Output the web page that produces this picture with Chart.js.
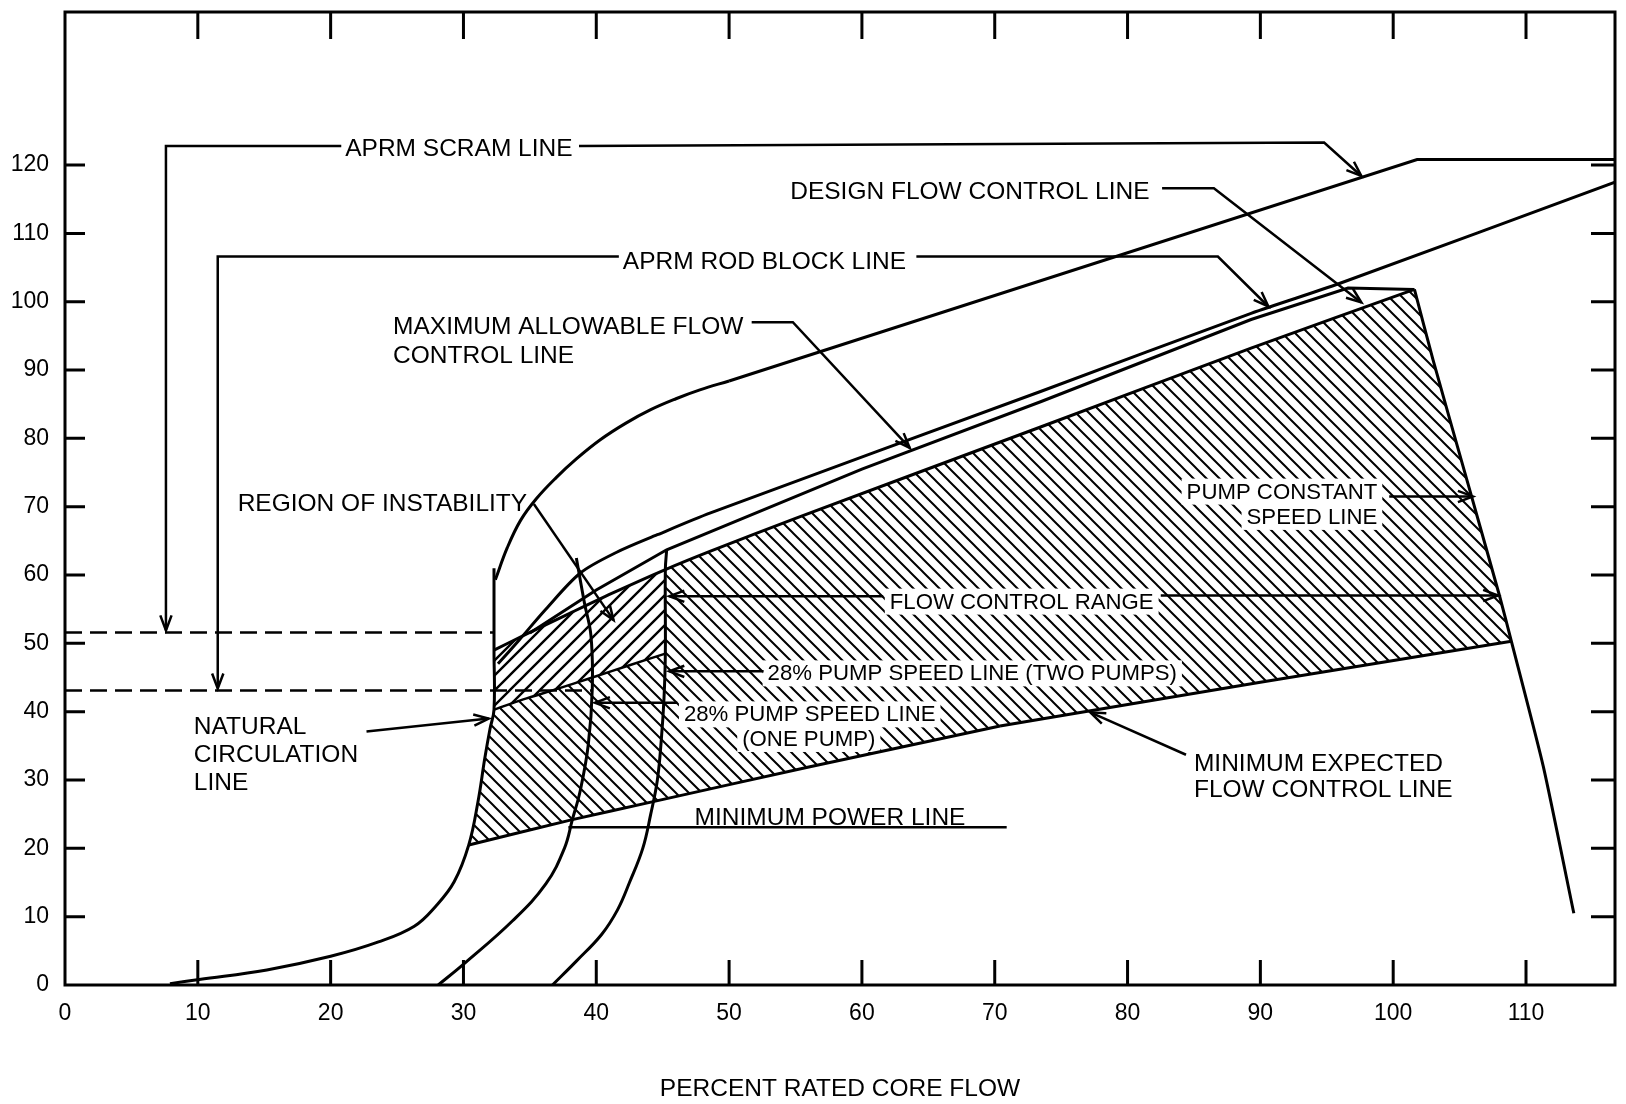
<!DOCTYPE html>
<html>
<head>
<meta charset="utf-8">
<title>Power / flow map</title>
<script src="https://cdn.jsdelivr.net/npm/chart.js@4.4.1/dist/chart.umd.min.js"></script>
<style>
  html, body { margin: 0; padding: 0; background: #fff; }
  canvas { display: block; }
</style>
</head>
<body>
<canvas id="mapa" width="1626" height="1104"></canvas>
<script>
// points: [percent rated core flow, percent power]
const flowTicks = [0, 10, 20, 30, 40, 50, 60, 70, 80, 90, 100, 110];
const powerTicks = [0, 10, 20, 30, 40, 50, 60, 70, 80, 90, 100, 110, 120];

const naturalCirculation = [[7.9,0.2],[10.1,0.8],[15.2,2.2],[20,4.2],[23.6,6.3],[26.3,8.6],[27.9,11.5],[29.3,15.1],[30.4,20.5],[31.1,26.9],[31.6,33.1],[32,37.5],[32.3,40.3],[32.3,49],[32.3,61]];
const scramLine = [[32.4,59.3],[33.3,64],[34.3,68],[35.5,71.2],[37,74.3],[38.5,77],[40.3,79.8],[42.2,82.2],[44.1,84.2],[46,85.8],[47.8,87.1],[50,88.4],[101.8,120.8],[116.7,120.8]];
const rodBlockLine = [[32.6,47],[34.2,50.5],[36.2,55],[38.8,60.3],[41.5,63.3],[44.6,65.9],[48.6,69.1],[73.5,86.9],[89.3,98.3],[96,102.7],[116.7,117.5]];
const maxAllowableLine = [[35,51.5],[40,57.8],[45.3,63.7],[60,75.5],[73.5,85.4],[89.3,97.4],[96.6,102],[101.6,101.8]];
const designLine = [[32.3,49],[35,51.6],[38,54.4],[41.5,57.6],[45.2,60.8],[48.6,63.5],[55,68.3],[73.5,81.7],[89.3,93.2],[101.6,101.8]];
const pumpConstantLine = [[101.6,101.8],[103,91.5],[105.9,71.5],[108,57],[108.9,50.3],[111.3,32],[113.6,10.5]];
const minPowerLine = [[30.4,20.5],[38.2,24.2],[44.2,26.8],[56,31.9],[70.4,37.9]];
const minExpectedLine = [[70.4,37.9],[77.1,40.1],[90,44.3],[108.9,50.3]];
const onePumpLine = [[28.1,0],[30.1,3.2],[33.7,9.4],[36.2,14.8],[37.6,20],[38.2,24.2],[38.8,28.5],[39.4,35.2],[39.7,43.4],[39.6,51.1],[39.1,56],[38.5,62.5]];
const twoPumpLine = [[36.7,0],[38.5,3.5],[40.4,7.4],[41.6,11],[42.5,15],[43.5,20],[44.1,25],[44.6,30],[44.9,36],[45.1,42],[45.2,48.5],[45.2,60.8],[45.3,63.7]];
const instabilityFloor = [[32.3,40.3],[34.5,41.8],[37,43.3],[39.7,45],[42.5,46.8],[45.2,48.5]];
const scramSetpoint = [[0,51.6],[32.3,51.6]];
const rodBlockSetpoint = [[0,43.1],[39.6,43.1]];

// leader lines for the labels
const scramLeaderA = [[20.8,122.8],[7.6,122.8],[7.6,51.9]];
const scramLeaderB = [[38.7,122.8],[94.8,123.3],[97.6,118.4]];
const rodLeaderA = [[41.7,106.6],[11.5,106.6],[11.5,43.4]];
const rodLeaderB = [[64.1,106.6],[86.8,106.6],[90.6,99.3]];
const designLeader = [[82.6,116.6],[86.5,116.6],[97.6,99.9]];
const maxAllowLeader = [[51.7,97.0],[54.8,97.0],[63.6,78.6]];
const instabilityLeader = [[35.3,70.4],[41.3,53.4]];
const pumpLeader = [[99.7,71.5],[106,71.5]];
const rangeLeaderL = [[61.6,56.9],[45.5,56.9]];
const rangeLeaderR = [[82.5,57],[107.9,57]];
const twoPumpLeader = [[52.6,45.9],[45.5,45.9]];
const onePumpLeader = [[46.1,41.3],[39.9,41.3]];
const naturalLeader = [[22.7,37.1],[31.9,39]];
const minExpLeader = [[84.4,33.7],[77.2,39.9]];
const minPowerLeader = [[37.9,23.1],[70.9,23.1]];

// texts on the figure (k: sits inside the hatching, smaller type on a white box)
const notas = [
  { t: 'APRM SCRAM LINE', x: 21.1, y: 122.7, a: 'left' },
  { t: 'DESIGN FLOW CONTROL LINE', x: 54.6, y: 116.4, a: 'left' },
  { t: 'APRM ROD BLOCK LINE', x: 42.0, y: 106.2, a: 'left' },
  { t: 'MAXIMUM ALLOWABLE FLOW', x: 24.7, y: 96.7, a: 'left' },
  { t: 'CONTROL LINE', x: 24.7, y: 92.5, a: 'left' },
  { t: 'REGION OF INSTABILITY', x: 13.0, y: 70.8, a: 'left' },
  { t: 'PUMP CONSTANT', x: 98.8, y: 72.5, a: 'right', k: true },
  { t: 'SPEED LINE', x: 98.8, y: 68.8, a: 'right', k: true },
  { t: 'FLOW CONTROL RANGE', x: 62.1, y: 56.4, a: 'left', k: true },
  { t: '28% PUMP SPEED LINE (TWO PUMPS)', x: 52.9, y: 45.9, a: 'left', k: true },
  { t: '28% PUMP SPEED LINE', x: 46.6, y: 39.9, a: 'left', k: true },
  { t: '(ONE PUMP)', x: 56.0, y: 36.3, a: 'center', k: true },
  { t: 'NATURAL', x: 9.7, y: 38.1, a: 'left' },
  { t: 'CIRCULATION', x: 9.7, y: 34.0, a: 'left' },
  { t: 'LINE', x: 9.7, y: 29.9, a: 'left' },
  { t: 'MINIMUM POWER LINE', x: 47.4, y: 24.8, a: 'left' },
  { t: 'MINIMUM EXPECTED', x: 85.0, y: 32.8, a: 'left' },
  { t: 'FLOW CONTROL LINE', x: 85.0, y: 28.9, a: 'left' }
];

const fuente = '"Liberation Sans", Arial, sans-serif';
const letra = n => (n.k ? '22.2px ' : '24.5px ') + fuente;

// hatch tiles
function rayado(dir, paso, ancho) {
  const c = document.createElement('canvas');
  c.width = paso; c.height = paso;
  const g = c.getContext('2d');
  g.strokeStyle = '#000';
  g.lineWidth = ancho;
  g.beginPath();
  for (let k = -1; k <= 2; k++) {
    if (dir === 'back') {
      g.moveTo(-paso, -paso + k * paso);
      g.lineTo(2 * paso, 2 * paso + k * paso);
    } else {
      g.moveTo(-paso, paso + k * paso);
      g.lineTo(2 * paso, -2 * paso + k * paso);
    }
  }
  g.stroke();
  return c.getContext('2d').createPattern(c, 'repeat');
}

const xy = arr => arr.map(p => ({ x: p[0], y: p[1] }));

function linea(puntos, extra) {
  return Object.assign({
    data: xy(puntos),
    showLine: true,
    borderColor: '#000',
    borderWidth: 3,
    pointRadius: 0,
    tension: 0,
    fill: false
  }, extra || {});
}

// hatched areas built from the boundary curves
const flowRangeArea = [
  ...naturalCirculation.slice(8, 13),
  ...instabilityFloor.slice(1),
  twoPumpLine[11],
  ...designLine.slice(5),
  ...pumpConstantLine.slice(1, 5),
  ...minExpectedLine.slice(0, 3).reverse(),
  ...minPowerLine.slice(1, 4).reverse()
];
const instabilityArea = [
  ...naturalCirculation.slice(12, 14),
  ...designLine.slice(1, 5),
  twoPumpLine[10],
  ...instabilityFloor.slice(1, 5).reverse()
];

const datasets = [
  linea(flowRangeArea, { borderWidth: 0, borderColor: 'rgba(0,0,0,0)', fill: 'shape', backgroundColor: rayado('back', 13, 2) }),
  linea(instabilityArea, { borderWidth: 0, borderColor: 'rgba(0,0,0,0)', fill: 'shape', backgroundColor: rayado('fwd', 15, 2.4) }),

  linea(naturalCirculation, { tension: 0.4 }),
  linea(scramLine.slice(0, 12), { tension: 0.4 }),
  linea(scramLine.slice(11)),
  linea(rodBlockLine, { tension: 0.3 }),
  linea(maxAllowableLine),
  linea(designLine, { tension: 0.3 }),
  linea(pumpConstantLine, { tension: 0.2 }),
  linea(minPowerLine, { tension: 0.2 }),
  linea(minExpectedLine),
  linea(onePumpLine, { tension: 0.4 }),
  linea(twoPumpLine, { tension: 0.4 }),
  linea(instabilityFloor, { tension: 0.3, borderWidth: 2.5 }),
  linea(scramSetpoint, { borderWidth: 2.5, borderDash: [17, 8] }),
  linea(rodBlockSetpoint, { borderWidth: 2.5, borderDash: [17, 8] }),

  linea(scramLeaderA, { borderWidth: 2.5, flecha: true }),
  linea(scramLeaderB, { borderWidth: 2.5, flecha: true }),
  linea(rodLeaderA, { borderWidth: 2.5, flecha: true }),
  linea(rodLeaderB, { borderWidth: 2.5, flecha: true }),
  linea(designLeader, { borderWidth: 2.5, flecha: true }),
  linea(maxAllowLeader, { borderWidth: 2.5, flecha: true }),
  linea(instabilityLeader, { borderWidth: 2.5, flecha: true }),
  linea(pumpLeader, { borderWidth: 2.5, flecha: true }),
  linea(rangeLeaderL, { borderWidth: 2.5, flecha: true }),
  linea(rangeLeaderR, { borderWidth: 2.5, flecha: true }),
  linea(twoPumpLeader, { borderWidth: 2.5, flecha: true }),
  linea(onePumpLeader, { borderWidth: 2.5, flecha: true }),
  linea(naturalLeader, { borderWidth: 2.5, flecha: true }),
  linea(minExpLeader, { borderWidth: 2.5, flecha: true }),
  linea(minPowerLeader, { borderWidth: 2.5 })
];

function medidas(ctx, n, chart) {
  const px = chart.scales.x.getPixelForValue(n.x);
  const py = chart.scales.y.getPixelForValue(n.y) + 3;
  const w = ctx.measureText(n.t).width;
  let x0 = px;
  if (n.a === 'right') x0 = px - w;
  if (n.a === 'center') x0 = px - w / 2;
  return { px, py, w, x0 };
}

const figura = {
  id: 'figura',
  beforeDraw(chart) {
    const ctx = chart.ctx;
    ctx.save();
    ctx.fillStyle = '#fff';
    ctx.fillRect(0, 0, chart.width, chart.height);
    ctx.restore();
  },
  beforeDatasetsDraw(chart) {
    // white box behind the labels that sit inside the hatching
    const ctx = chart.ctx;
    ctx.save();
    ctx.fillStyle = '#fff';
    notas.filter(n => n.k).forEach(n => {
      ctx.font = letra(n);
      const m = medidas(ctx, n, chart);
      ctx.fillRect(m.x0 - 5, m.py - 14, m.w + 10, 26);
    });
    ctx.restore();
  },
  afterDatasetsDraw(chart) {
    const ctx = chart.ctx;
    const { left, right, top, bottom } = chart.chartArea;
    ctx.save();

    // arrow heads at the end of the leaders
    ctx.strokeStyle = '#000';
    ctx.lineWidth = 2.5;
    chart.data.datasets.forEach((ds, i) => {
      if (!ds.flecha) return;
      const pts = chart.getDatasetMeta(i).data;
      const a = pts[pts.length - 2], b = pts[pts.length - 1];
      const ang = Math.atan2(b.y - a.y, b.x - a.x);
      const L = 16, abre = 0.36;
      ctx.beginPath();
      ctx.moveTo(b.x - L * Math.cos(ang - abre), b.y - L * Math.sin(ang - abre));
      ctx.lineTo(b.x, b.y);
      ctx.lineTo(b.x - L * Math.cos(ang + abre), b.y - L * Math.sin(ang + abre));
      ctx.stroke();
    });

    // labels
    ctx.fillStyle = '#000';
    ctx.textBaseline = 'middle';
    ctx.textAlign = 'left';
    notas.forEach(n => {
      ctx.font = letra(n);
      const m = medidas(ctx, n, chart);
      ctx.fillText(n.t, m.x0, m.py);
    });

    // frame and inward ticks
    ctx.lineWidth = 3;
    ctx.strokeRect(left, top, right - left, bottom - top);
    ctx.beginPath();
    flowTicks.slice(1).forEach(v => {
      const px = chart.scales.x.getPixelForValue(v);
      ctx.moveTo(px, bottom); ctx.lineTo(px, bottom - 25);
      ctx.moveTo(px, top); ctx.lineTo(px, top + 27);
    });
    powerTicks.slice(1).forEach(v => {
      const py = chart.scales.y.getPixelForValue(v);
      ctx.moveTo(left, py); ctx.lineTo(left + 20, py);
      ctx.moveTo(right, py); ctx.lineTo(right - 24, py);
    });
    ctx.stroke();
    ctx.restore();
  }
};

// no extra margins from the tick labels, the frame sits where the figure has it
function sinMargen(s, lado, valor) {
  s[lado] = valor;
  s.paddingTop = 0; s.paddingBottom = 0; s.paddingLeft = 0; s.paddingRight = 0;
}

new Chart(document.getElementById('mapa'), {
  type: 'scatter',
  data: { datasets },
  options: {
    responsive: false,
    animation: false,
    devicePixelRatio: 1,
    layout: { autoPadding: false, padding: { top: 12, right: 11, left: 0, bottom: 0 } },
    plugins: {
      legend: { display: false },
      tooltip: { enabled: false },
      filler: { drawTime: 'beforeDatasetsDraw' }
    },
    scales: {
      x: {
        type: 'linear',
        min: 0,
        max: 116.7,
        afterFit: s => sinMargen(s, 'height', 119),
        grid: { display: false, drawTicks: false },
        border: { display: false },
        ticks: {
          stepSize: 10,
          includeBounds: false,
          autoSkip: false,
          maxRotation: 0,
          padding: 15,
          color: '#000',
          font: { family: fuente, size: 23 },
          callback: v => flowTicks.includes(v) ? String(v) : ''
        },
        title: {
          display: true,
          text: 'PERCENT RATED CORE FLOW',
          color: '#000',
          font: { family: fuente, size: 24.5 },
          padding: { top: 0, bottom: 0 }
        }
      },
      y: {
        type: 'linear',
        min: 0,
        max: 142.4,
        afterFit: s => sinMargen(s, 'width', 65),
        grid: { display: false, drawTicks: false },
        border: { display: false },
        ticks: {
          stepSize: 10,
          includeBounds: false,
          autoSkip: false,
          padding: 16,
          color: '#000',
          font: { family: fuente, size: 23 },
          callback: v => powerTicks.includes(v) ? String(v) : ''
        }
      }
    }
  },
  plugins: [figura]
});
</script>
</body>
</html>
